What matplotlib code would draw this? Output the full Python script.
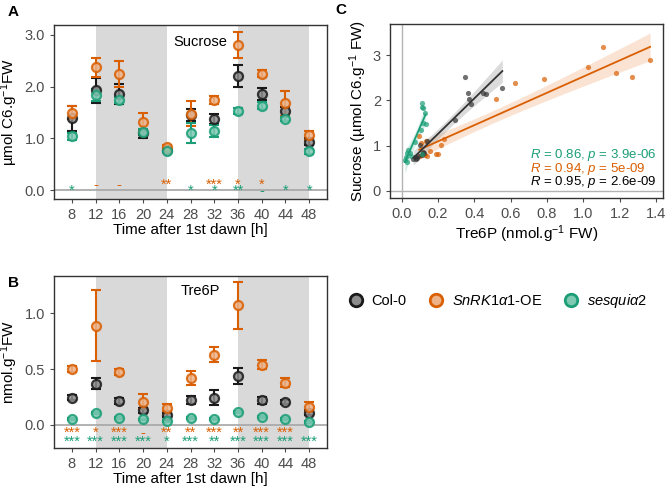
import numpy as np
import matplotlib
matplotlib.use("Agg")
import matplotlib.pyplot as plt
from matplotlib.lines import Line2D

plt.rcParams['font.family'] = ['Liberation Sans', 'DejaVu Sans']
plt.rcParams['mathtext.fontset'] = 'custom'
plt.rcParams['mathtext.rm'] = 'Liberation Sans'
plt.rcParams['mathtext.it'] = 'Liberation Sans:italic'
plt.rcParams['mathtext.bf'] = 'Liberation Sans:bold'

# ---------------- data ----------------
times = [8, 12, 16, 20, 24, 28, 32, 36, 40, 44, 48]
genotypes = ["Col-0", "SnRK1a1-OE", "sesquia2"]

suc_col_mean = [1.39, 1.93, 1.86, 1.10, 0.78, 1.45, 1.38, 2.20, 1.86, 1.52, 0.94]
suc_col_err = [0.24, 0.24, 0.19, 0.09, 0.04, 0.11, 0.10, 0.21, 0.11, 0.08, 0.06]
suc_oe_mean = [1.50, 2.37, 2.25, 1.32, 0.84, 1.48, 1.74, 2.81, 2.25, 1.68, 1.06]
suc_oe_err = [0.12, 0.18, 0.25, 0.17, 0.04, 0.24, 0.07, 0.25, 0.07, 0.24, 0.09]
suc_ses_mean = [1.04, 1.84, 1.74, 1.13, 0.76, 1.10, 1.14, 1.53, 1.63, 1.37, 0.75]
suc_ses_err = [0.07, 0.12, 0.05, 0.06, 0.03, 0.19, 0.11, 0.05, 0.07, 0.04, 0.05]

t6p_col_mean = [0.245, 0.37, 0.215, 0.13, 0.09, 0.225, 0.245, 0.44, 0.22, 0.205, 0.11]
t6p_col_err = [0.025, 0.05, 0.025, 0.02, 0.02, 0.035, 0.065, 0.07, 0.03, 0.015, 0.02]
t6p_oe_mean = [0.50, 0.89, 0.475, 0.21, 0.155, 0.42, 0.63, 1.07, 0.54, 0.38, 0.165]
t6p_oe_err = [0.03, 0.32, 0.025, 0.07, 0.03, 0.06, 0.07, 0.21, 0.04, 0.04, 0.045]
t6p_ses_mean = [0.057, 0.11, 0.06, 0.05, 0.035, 0.065, 0.057, 0.115, 0.07, 0.057, 0.027]
t6p_ses_err = [0.008, 0.01, 0.008, 0.008, 0.006, 0.01, 0.008, 0.01, 0.01, 0.008, 0.006]

sig_suc_oe = ["", "-", "-", "", "**", "", "***", "*", "*", "", ""]
sig_suc_ses = ["*", "", "", "", "", "*", "*", "**", "-", "*", "*"]
sig_t6p_oe = ["***", "*", "***", "-", "**", "**", "***", "**", "***", "***", ""]
sig_t6p_ses = ["***", "***", "***", "***", "*", "***", "**", "***", "***", "***", "***"]

# scatter (panel C): Tre6P x, Sucrose y
sc_col_x = [0.349, 0.363, 0.372, 0.38, 0.446, 0.462, 0.554, 0.294, 0.10, 0.138, 0.125, 0.086, 0.064, 0.075, 0.09, 0.11, 0.12, 0.08]
sc_col_y = [2.52, 2.17, 2.03, 1.91, 2.17, 2.14, 2.28, 1.56, 1.02, 1.10, 0.83, 0.72, 0.71, 0.75, 0.78, 0.80, 0.85, 0.70]
sc_oe_x = [1.106, 1.367, 1.028, 1.178, 1.268, 0.785, 0.624, 0.517, 0.217, 0.19, 0.198, 0.156, 0.097, 0.132, 0.235, 0.119, 0.13, 0.106, 0.14, 0.10]
sc_oe_y = [3.18, 2.89, 2.74, 2.61, 2.52, 2.48, 2.38, 2.03, 1.02, 0.82, 0.82, 0.88, 1.22, 1.10, 1.14, 0.83, 0.80, 1.05, 0.78, 0.78]
sc_ses_x = [0.110, 0.114, 0.119, 0.128, 0.132, 0.115, 0.106, 0.073, 0.036, 0.031, 0.024, 0.018, 0.027, 0.11, 0.046, 0.05]
sc_ses_y = [1.95, 1.86, 1.84, 1.71, 1.47, 1.50, 1.34, 1.08, 0.90, 0.83, 0.75, 0.68, 0.64, 0.81, 0.83, 0.78]

stats_text = ["0.86", "3.9e-06", "0.94", "5e-09", "0.95", "2.6e-09"]

# ---------------- style ----------------
C_COL = "#1a1a1a"
C_OE = "#D95F02"
C_SES = "#1B9E77"
FILL_COL = "#8C8C8C"
FILL_OE = "#EDB288"
FILL_SES = "#7FC9B3"
TICKC = "#4D4D4D"
SHADE = "#D9D9D9"

fig = plt.figure(figsize=(6.7, 4.88), dpi=100)
axA = fig.add_axes([54/670, 1-199/488, 273/670, 174/488])
axB = fig.add_axes([54/670, 1-448/488, 273/670, 172/488])
axC = fig.add_axes([390/670, 1-198/488, 273/670, 174/488])


def style_axis(ax):
    for s in ax.spines.values():
        s.set_color("#333333")
        s.set_linewidth(1.0)
    ax.tick_params(colors=TICKC, labelsize=10.5, length=3, width=0.8, labelcolor=TICKC)


def time_panel(ax, series, sigs, ylim, yticks, fmt, sig_y, label, label_y):
    ax.axvspan(12, 24, color=SHADE, lw=0, zorder=0)
    ax.axvspan(36, 48, color=SHADE, lw=0, zorder=0)
    ax.axhline(0, color="#A6A6A6", lw=1.2, zorder=1)
    for mean, err, c, fc in series:
        ax.errorbar(times, mean, yerr=err, fmt="none", ecolor=c, elinewidth=1.5,
                    capsize=3.6, capthick=1.5, zorder=3)
        ax.plot(times, mean, "o", ms=6.5, mfc=fc, mec=c, mew=1.6, alpha=0.85, zorder=4)
    for (labels, c), yy in zip(sigs, sig_y):
        for t, s in zip(times, labels):
            if s:
                ax.text(t, yy, s, color=c, ha="center", va="center", fontsize=10.5)
    ax.set_xlim(5, 51)
    ax.set_ylim(*ylim)
    ax.set_xticks(times)
    ax.set_yticks(yticks)
    ax.set_yticklabels([fmt.format(v) for v in yticks])
    ax.text(29.6, label_y, label, ha="center", va="center", fontsize=10.5)
    ax.set_xlabel("Time after 1st dawn [h]", fontsize=11, labelpad=1)
    style_axis(ax)


time_panel(axA,
           [(suc_col_mean, suc_col_err, C_COL, FILL_COL),
            (suc_oe_mean, suc_oe_err, C_OE, FILL_OE),
            (suc_ses_mean, suc_ses_err, C_SES, FILL_SES)],
           [(sig_suc_oe, C_OE), (sig_suc_ses, C_SES)],
           (-0.17, 3.19), [0.0, 1.0, 2.0, 3.0], "{:.1f}", [0.10, -0.02],
           "Sucrose", 2.86)
axA.set_ylabel("µmol C6.g$^{-1}$FW", fontsize=11, labelpad=3)

time_panel(axB,
           [(t6p_col_mean, t6p_col_err, C_COL, FILL_COL),
            (t6p_oe_mean, t6p_oe_err, C_OE, FILL_OE),
            (t6p_ses_mean, t6p_ses_err, C_SES, FILL_SES)],
           [(sig_t6p_oe, C_OE), (sig_t6p_ses, C_SES)],
           (-0.206, 1.334), [0.0, 0.5, 1.0], "{:.1f}", [-0.072, -0.152],
           "Tre6P", 1.20)
axB.set_ylabel("nmol.g$^{-1}$FW", fontsize=11, labelpad=3)

# ---------------- panel C ----------------
axC.axhline(0, color="#B3B3B3", lw=1.0, zorder=0)
axC.axvline(0, color="#B3B3B3", lw=1.0, zorder=0)


def reg(ax, x, y, c, band):
    x = np.asarray(x); y = np.asarray(y)
    n = len(x)
    b, a = np.polyfit(x, y, 1)
    xs = np.linspace(x.min(), x.max(), 80)
    yh = a + b * xs
    res = y - (a + b * x)
    s = np.sqrt(np.sum(res ** 2) / (n - 2))
    se = s * np.sqrt(1 / n + (xs - x.mean()) ** 2 / np.sum((x - x.mean()) ** 2))
    tcrit = 2.11
    ax.fill_between(xs, yh - tcrit * se, yh + tcrit * se, color=band, alpha=0.35, lw=0, zorder=2)
    ax.scatter(x, y, s=14, color=c, alpha=0.7, lw=0, zorder=3)
    ax.plot(xs, yh, color=c, lw=1.3, zorder=4)


reg(axC, sc_oe_x, sc_oe_y, C_OE, "#F4B183")
reg(axC, sc_col_x, sc_col_y, "#333333", "#999999")
reg(axC, sc_ses_x, sc_ses_y, C_SES, "#7FCDB5")

axC.set_xlim(-0.064, 1.438)
axC.set_ylim(-0.16, 3.69)
axC.set_xticks(np.arange(0, 1.41, 0.2))
axC.set_xticklabels(["{:.1f}".format(v) for v in np.arange(0, 1.41, 0.2)])
axC.set_yticks([0, 1, 2, 3])
axC.set_xlabel("Tre6P (nmol.g$^{-1}$ FW)", fontsize=11, labelpad=2)
axC.set_ylabel("Sucrose (µmol C6.g$^{-1}$ FW)", fontsize=11, labelpad=3)
style_axis(axC)
for (r, p), c, yy in zip([(stats_text[0], stats_text[1]), (stats_text[2], stats_text[3]),
                          (stats_text[4], stats_text[5])],
                         [C_SES, C_OE, "#000000"], [0.79, 0.49, 0.19]):
    axC.text(0.707, yy, r"$\mathit{R}$ = " + r + r", $\mathit{p}$ = " + p,
             color=c, fontsize=9.5, ha="left", va="center")

# ---------------- legend ----------------
handles = [
    Line2D([], [], marker="o", ls="none", ms=9, mfc=FILL_COL, mec=C_COL, mew=2),
    Line2D([], [], marker="o", ls="none", ms=9, mfc=FILL_OE, mec=C_OE, mew=2),
    Line2D([], [], marker="o", ls="none", ms=9, mfc=FILL_SES, mec=C_SES, mew=2),
]
labels = ["Col-0", r"$\mathit{SnRK1\alpha1}$-OE", r"$\mathit{sesqui\alpha2}$"]
fig.legend(handles, labels, loc="center left", bbox_to_anchor=(341/670, 1-301/488),
           ncol=3, frameon=False, fontsize=10.5, handletextpad=0.1, columnspacing=1.0,
           borderaxespad=0, borderpad=0)

# panel letters
fig.text(8/670, 1-12/488, "A", fontsize=11, fontweight="bold", va="center")
fig.text(8/670, 1-283/488, "B", fontsize=11, fontweight="bold", va="center")
fig.text(335/670, 1-10/488, "C", fontsize=11, fontweight="bold", va="center")

fig.savefig("out.png", dpi=100)
